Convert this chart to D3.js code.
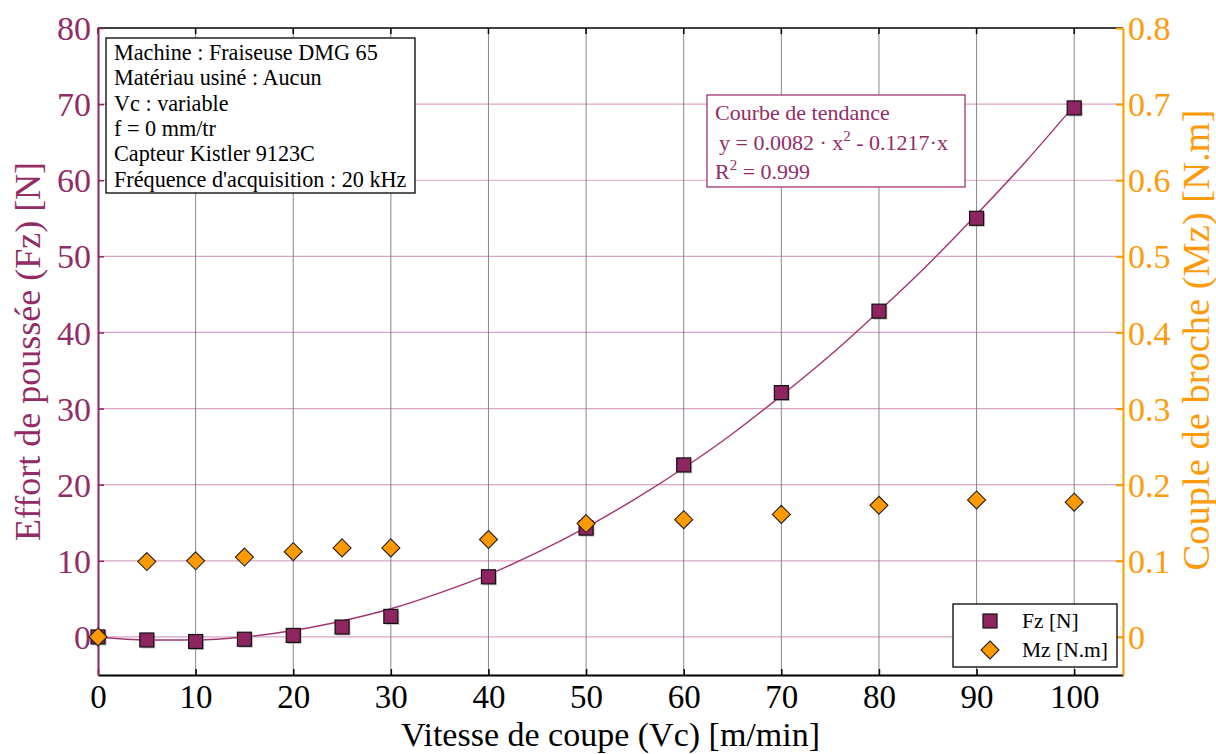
<!DOCTYPE html>
<html><head><meta charset="utf-8">
<script src="https://cdn.jsdelivr.net/npm/d3@7/dist/d3.min.js"></script>
<style>body{margin:0;background:#fff}svg{display:block}text{font-family:"Liberation Serif","DejaVu Serif",serif}</style>
</head><body><svg id="c" width="1216" height="754"></svg>
<script>
const vc = [0,5,10,15,20,25,30,40,50,60,70,80,90,100];
const fz = [0,-0.4,-0.6,-0.3,0.2,1.3,2.7,7.9,14.3,22.6,32.1,42.8,55.0,69.5];
const mz = [0,0.099,0.100,0.105,0.112,0.117,0.117,0.128,0.149,0.154,0.161,0.173,0.180,0.177];
const trendX = [0,5,10,15,20,25,30,35,40,45,50,55,60,65,70,75,80,85,90,95,100];
const trendY = [0,-0.4,-0.4,0.0,0.85,2.1,3.7,5.8,8.2,11.1,14.4,18.1,22.2,26.7,31.7,37.0,42.8,48.9,55.5,62.4,69.8];
const xTicks = [0,10,20,30,40,50,60,70,80,90,100];
const yTicks = [0,10,20,30,40,50,60,70,80];
const y2Ticks = [0,0.1,0.2,0.3,0.4,0.5,0.6,0.7,0.8];
const infoLines = ["Machine : Fraiseuse DMG 65","Matériau usiné : Aucun","Vc : variable","f  = 0 mm/tr","Capteur Kistler 9123C","Fréquence d'acquisition : 20 kHz"];

const MAROON = "#8E2460", MTEXT = "#932C66", ORANGE = "#FF9900", OTEXT = "#FF9A0A";
const svg = d3.select("#c");
const L = 98, R = 1123, T = 28, B = 675;
const x = d3.scaleLinear().domain([0,105]).range([L,R]);
const y = d3.scaleLinear().domain([-5,80]).range([B,T]);
const y2 = d3.scaleLinear().domain([-0.05,0.8]).range([B,T]);

// horizontal grid (pink)
svg.append("g").selectAll("line").data(yTicks.filter(d=>d<80)).join("line")
  .attr("x1",L).attr("x2",R).attr("y1",d=>y(d)).attr("y2",d=>y(d))
  .attr("stroke","#D9A3C4").attr("stroke-width",1.2);
// vertical grid (gray)
svg.append("g").selectAll("line").data(xTicks.filter(d=>d>0)).join("line")
  .attr("x1",d=>x(d)).attr("x2",d=>x(d)).attr("y1",T).attr("y2",B)
  .attr("stroke","#7a7a7a").attr("stroke-width",0.9);

// top frame
svg.append("line").attr("x1",L).attr("x2",R).attr("y1",T).attr("y2",T).attr("stroke","#000").attr("stroke-width",1.5);
// bottom axis
const gx = svg.append("g").attr("transform",`translate(0,${B})`)
  .call(d3.axisBottom(x).tickValues(xTicks).tickSize(-6).tickPadding(9).tickSizeOuter(0));
gx.attr("font-family",null);
gx.select(".domain").attr("stroke","#000").attr("stroke-width",2);
gx.selectAll(".tick line").attr("stroke","#000").attr("stroke-width",1.5);
gx.selectAll("text").attr("font-size",33).attr("fill","#000").attr("dy","0.72em");
// top ticks
svg.append("g").selectAll("line").data(xTicks).join("line")
  .attr("x1",d=>x(d)).attr("x2",d=>x(d)).attr("y1",T).attr("y2",T+6).attr("stroke","#000").attr("stroke-width",1.5);

// left axis
const gy = svg.append("g").attr("transform",`translate(${L},0)`)
  .call(d3.axisLeft(y).tickValues(yTicks).tickSize(-6).tickPadding(7).tickSizeOuter(0));
gy.attr("font-family",null);
gy.select(".domain").attr("stroke",MAROON).attr("stroke-width",2);
gy.selectAll(".tick line").attr("stroke",MAROON).attr("stroke-width",1.5);
gy.selectAll("text").attr("font-size",34).attr("fill",MTEXT).attr("dy","0.34em");

// right axis
const gy2 = svg.append("g").attr("transform",`translate(${R},0)`)
  .call(d3.axisRight(y2).tickValues(y2Ticks).tickFormat(d=>d===0?"0":d3.format(".1f")(d)).tickSize(-7).tickPadding(5).tickSizeOuter(0));
gy2.attr("font-family",null);
gy2.select(".domain").attr("stroke",ORANGE).attr("stroke-width",2);
gy2.selectAll(".tick line").attr("stroke",ORANGE).attr("stroke-width",2);
gy2.selectAll("text").attr("font-size",34).attr("fill",OTEXT).attr("dy","0.34em");

// axis titles
svg.append("text").attr("x",(L+R)/2).attr("y",746).attr("text-anchor","middle")
  .attr("font-size",34).attr("fill","#000").text("Vitesse de coupe (Vc) [m/min]");
svg.append("text").attr("transform",`translate(40,${(T+B)/2}) rotate(-90)`).attr("text-anchor","middle")
  .attr("font-size",36).attr("fill",MTEXT).text("Effort de poussée (Fz) [N]");
svg.append("text").attr("transform",`translate(1209,340) rotate(-90)`).attr("text-anchor","middle")
  .attr("font-size",38.5).attr("fill",OTEXT).text("Couple de broche (Mz) [N.m]");

// trend line
svg.append("path").datum(trendX.map((v,i)=>[v,trendY[i]]))
  .attr("d",d3.line().x(d=>x(d[0])).y(d=>y(d[1])).curve(d3.curveMonotoneX))
  .attr("fill","none").attr("stroke","#A03573").attr("stroke-width",1.4);

// Fz squares
const sq = 14;
const gF = svg.append("g");
gF.selectAll("rect.sh").data(vc).join("rect")
  .attr("x",(d)=>x(d)-sq/2+1.5).attr("y",(d,i)=>y(fz[i])-sq/2+1.5).attr("width",sq).attr("height",sq)
  .attr("fill","#9a9a9a").attr("opacity",0.6);
gF.selectAll("rect.m").data(vc).join("rect")
  .attr("x",(d)=>x(d)-sq/2).attr("y",(d,i)=>y(fz[i])-sq/2).attr("width",sq).attr("height",sq)
  .attr("fill",MAROON).attr("stroke","#111").attr("stroke-width",1.2);

// Mz diamonds
const dm = 9;
const diamond = (cx,cy)=>`M${cx},${cy-dm}L${cx+dm},${cy}L${cx},${cy+dm}L${cx-dm},${cy}Z`;
svg.append("g").selectAll("path").data(vc).join("path")
  .attr("d",(d,i)=>diamond(x(d),y2(mz[i])))
  .attr("fill",ORANGE).attr("stroke","#222").attr("stroke-width",1.1);

// info box
const ib = svg.append("g");
ib.append("rect").attr("x",106).attr("y",38).attr("width",309).attr("height",155)
  .attr("fill","#fff").attr("stroke","#000").attr("stroke-width",1.3);
ib.selectAll("text").data(infoLines).join("text")
  .attr("x",114).attr("y",(d,i)=>60+i*25.3).attr("font-size",22.2).attr("fill","#000").text(d=>d);

// trend box
const tb = svg.append("g");
tb.append("rect").attr("x",707).attr("y",95).attr("width",258).attr("height",92)
  .attr("fill","#fff").attr("stroke","#A03573").attr("stroke-width",1.3);
tb.append("text").attr("x",715).attr("y",120).attr("font-size",22).attr("fill",MTEXT).text("Courbe de tendance");
const t2 = tb.append("text").attr("x",719).attr("y",150).attr("font-size",22).attr("fill",MTEXT);
t2.append("tspan").text("y = 0.0082 · x");
t2.append("tspan").attr("dy",-9).attr("font-size",15).text("2");
t2.append("tspan").attr("dy",9).text(" - 0.1217·x");
const t3 = tb.append("text").attr("x",715).attr("y",179).attr("font-size",22).attr("fill",MTEXT);
t3.append("tspan").text("R");
t3.append("tspan").attr("dy",-9).attr("font-size",15).text("2");
t3.append("tspan").attr("dy",9).text(" = 0.999");

// legend
const lg = svg.append("g");
lg.append("rect").attr("x",953).attr("y",604).attr("width",164).attr("height",63)
  .attr("fill","#fff").attr("stroke","#000").attr("stroke-width",1.3);
lg.append("rect").attr("x",990-sq/2).attr("y",621-sq/2).attr("width",sq).attr("height",sq)
  .attr("fill",MAROON).attr("stroke","#111").attr("stroke-width",1.2);
lg.append("path").attr("d",diamond(990,650)).attr("fill",ORANGE).attr("stroke","#222").attr("stroke-width",1.1);
lg.append("text").attr("x",1022).attr("y",628).attr("font-size",21.5).attr("fill","#000").text("Fz [N]");
lg.append("text").attr("x",1022).attr("y",657).attr("font-size",21.5).attr("fill","#000").text("Mz [N.m]");
</script></body></html>
